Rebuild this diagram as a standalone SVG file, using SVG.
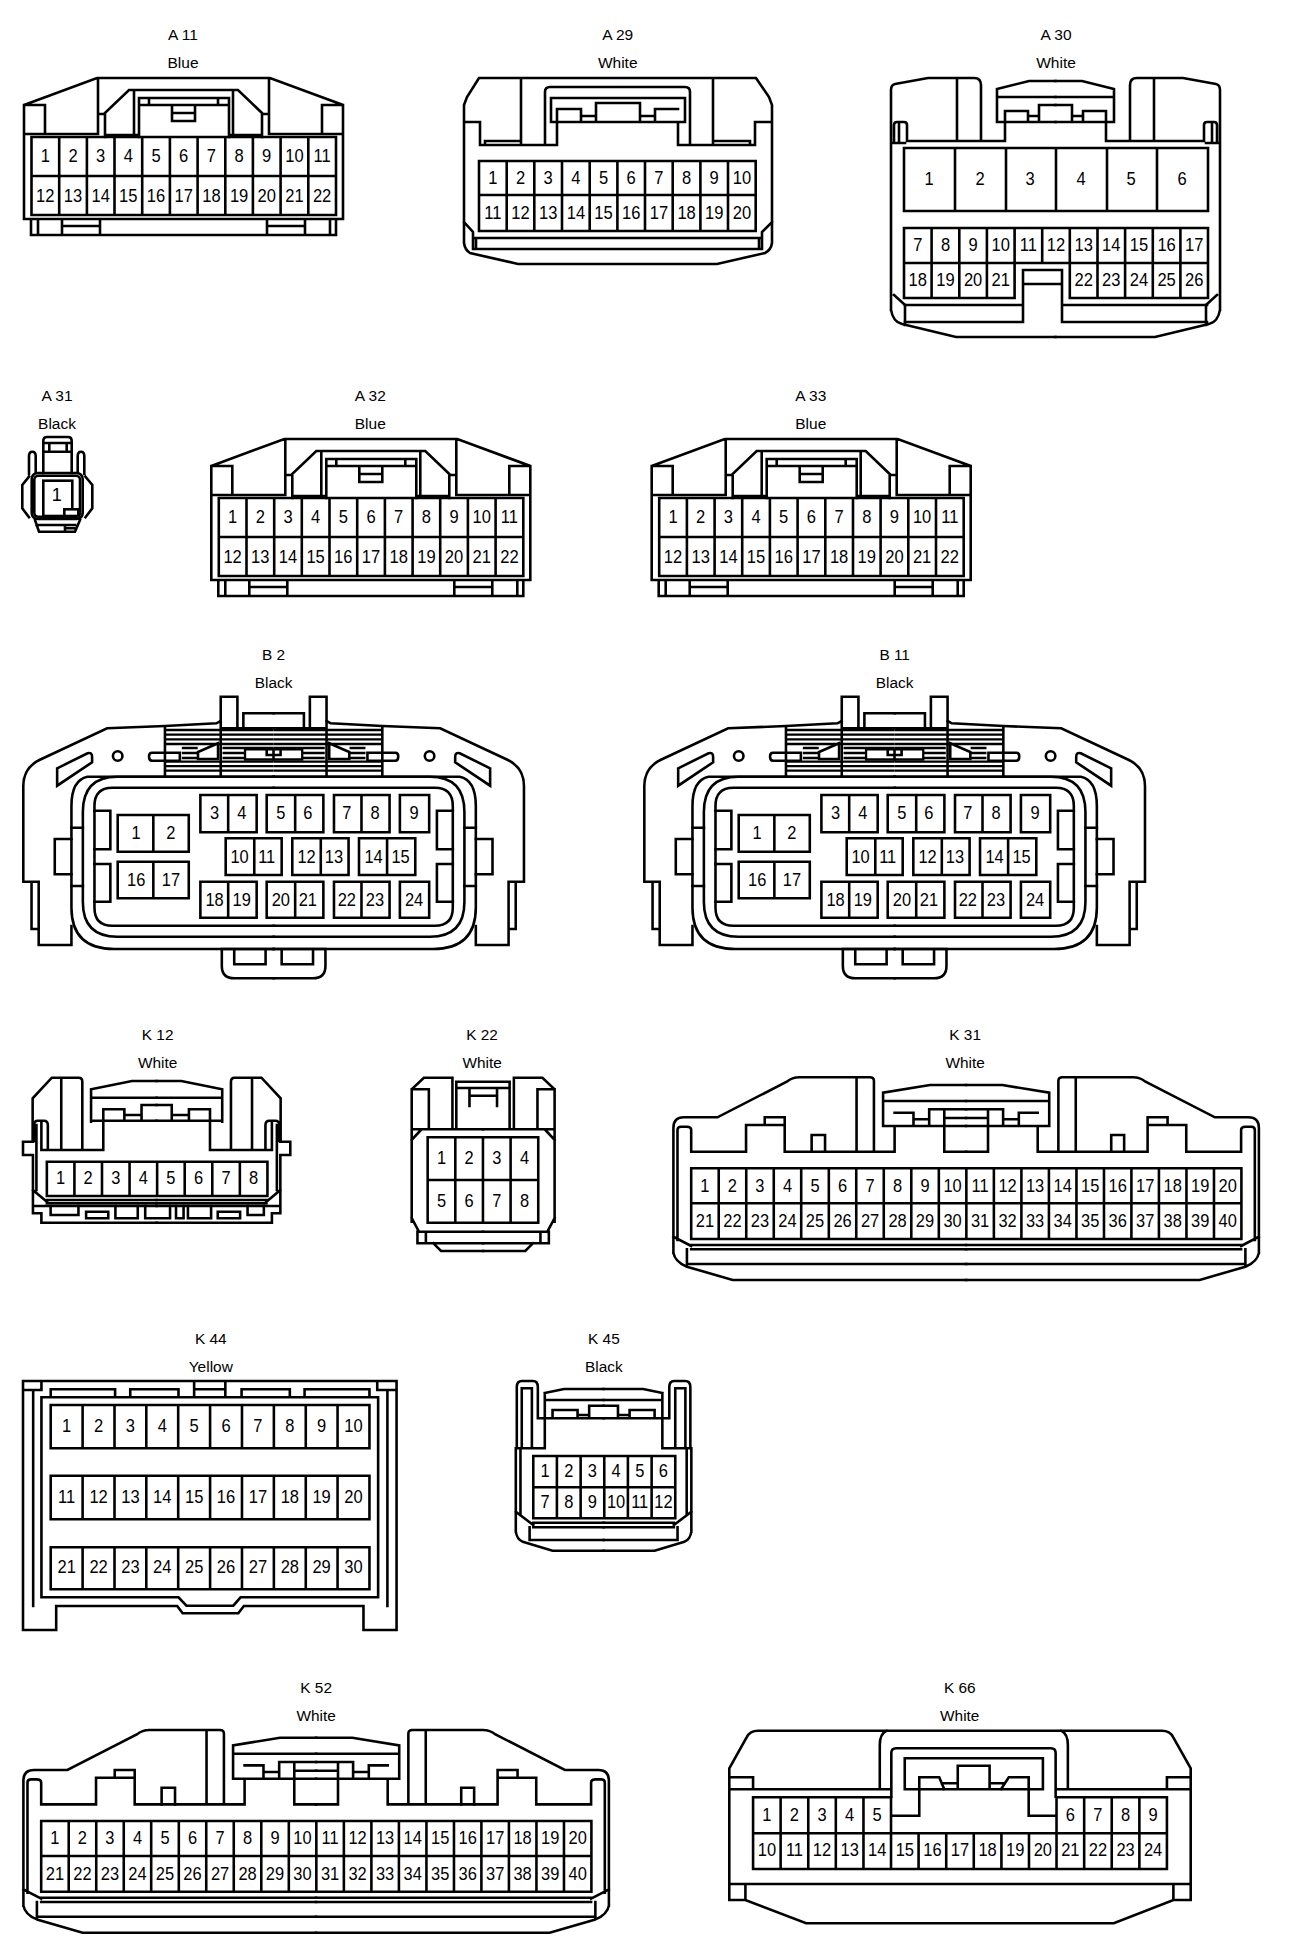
<svg xmlns="http://www.w3.org/2000/svg" xmlns:xlink="http://www.w3.org/1999/xlink" width="1312" height="1956" viewBox="0 0 1312 1956">
<style>
.s{fill:none;stroke:#000;stroke-width:2.6;stroke-linejoin:miter;stroke-linecap:square}
.h{fill:none;stroke:#000;stroke-width:2.3}
.w{fill:#fff;stroke:#000;stroke-width:2.6}
text{font-family:"Liberation Sans",Arial,sans-serif;fill:#000;text-anchor:middle}
.l{font-size:15.5px}
.n{font-size:18px}
.n text{transform-box:fill-box;transform-origin:center;transform:scaleX(.92)}
</style>
<defs>
<g id="s22">
<path class="s" d="M24 105L97 78H270L343 105V219H24Z M24 105H45V134 M322 134V105H343 M24 134H98V78 M343 134H269V78 M98 114H105V137 M269 114H262V137 M105 135H139 M229 135H262 M105 113L129 90H238L262 113 M134 90V135 M233 90V135 M139 137V98H229V137 M139 105H229 M149 98V105 M218 98V105 M172 105V121H195V105 M172 113H195 M31 219V235H336V219 M38 219V235 M62 219V235 M100 219V235 M62 226H100 M267 219V235 M305 219V235 M267 226H305 M330 219V235"/>
<path class="s" d="M31.5 137H336V215H31.5Z M31.5 176H336 M59.2 137V215 M86.9 137V215 M114.5 137V215 M142.2 137V215 M169.9 137V215 M197.6 137V215 M225.3 137V215 M252.9 137V215 M280.6 137V215 M308.3 137V215"/>
</g>
<g id="a30h">
<path class="s" d="M891 310V90Q891 85 895 84L928 78H974Q981 78 981 85V141 M957 78V141 M894 143V125Q894 122 897 122H904Q907 122 907 125V141 M899 122V141 M891 143H905 M907 141H1005V122 M997 122V89L1029 81H1055.5 M997 97H1055.5 M997 122H1055.5 M1005 122V111H1028V122 M1039 122V105H1055.5 M1028 116H1039 M894 295L905 305 M905 305V325 M891 310Q893 322 902 324L956 337H1055.5"/>
</g>
<g id="b2h">
<path class="s" d="M222 721L218 723.3L166 726L107.7 728.3L39.5 760Q23.3 768 23.3 786V881.7H38.8V945H71.8V926 M31.6 881.7V929H38.8"/>
<path class="s" d="M275.5 776.7H88Q71.8 780 71.8 806V908Q72 949 115 949H275.5"/>
<path class="s" d="M275.5 776.7H118Q83.3 776.7 83.3 812V902Q83.3 936.7 118 936.7H275.5"/>
<path class="s" d="M275.5 787.7H113Q95 787.7 95 806V907.7Q95 925.7 113 925.7H275.5"/>
<path class="s" d="M95 810.7H111V849.3H95 M95 864H111V901.7H95 M71.8 827.7H83.3 M71.8 886H83.3 M71.8 839H55V874.3H71.8"/>
<path class="s" d="M57.4 768.3L88 753.3Q92.6 752 92.6 757V762.3L57.4 785.7Z"/>
<circle class="s" cx="118.4" cy="756" r="4.8"/>
<path class="h" d="M166 730H275.5 M166 734.7H275.5 M166 739.3H275.5 M166 744H275.5 M166 761.7H275.5 M166 766.2H275.5 M166 770.7H275.5 M183 748H199 M183 753H199 M183 758H199 M224 748H275.5 M224 753H246.7 M224 758H246.7"/>
<path class="w" d="M199.3 752L219.5 743.3V759H199.3Z"/>
<path class="s" d="M166 727V776.7 M222.2 721V776.7 M222.2 728.3H275.5 M222.2 728V696.7H239V728 M245 728V713.3H275.5 M150 756Q150 752.7 153 752.7H181V760.7H153Q150 760.7 150 757Z"/>
<path d="M246.7 749.3H275.5V759.5H246.7Z" fill="#fff" stroke="#000" stroke-width="2.3"/>
<path class="s" d="M268.5 749V755H275.5 M275.5 949H223.3V966Q223.3 978.3 236 978.3H275.5 M235.8 949V964.3H267.4V949"/>
</g>
<g id="b2g">
<path class="s" d="M118.4 815H190V851.7H118.4Z M154.3 815V851.7 M118.4 861.7H190V898.3H118.4Z M154.3 861.7V898.3"/>
<path class="s" d="M201.7 795H258.4V832.3H201.7Z M229.7 795V832.3 M268.5 795H325.6V832.3H268.5Z M297.2 795V832.3 M336.3 795H392.3V832.3H336.3Z M364 795V832.3 M402.7 795H432.2V832.3H402.7Z"/>
<path class="s" d="M227.2 838.3H283.6V875H227.2Z M256 838.3V875 M294.3 838.3H351V875H294.3Z M323 838.3V875 M361.5 838.3H418.2V875H361.5Z M389.8 838.3V875"/>
<path class="s" d="M201.7 881.7H258.4V917.7H201.7Z M229.7 881.7V917.7 M268.5 881.7H325.6V917.7H268.5Z M297.2 881.7V917.7 M336.3 881.7H392.3V917.7H336.3Z M364 881.7V917.7 M402.7 881.7H432.2V917.7H402.7Z"/>
</g>
<g id="k40h">
<path class="s" d="M673.4 1253V1128Q673.4 1117.3 684 1117.3H717.7L787.5 1081.7Q793 1077.3 800 1077.3H871Q875.2 1077.3 875.2 1081V1151.7 M857.7 1077.3V1151.7 M800 1077.3H871 M677.5 1240V1130Q677.5 1126.7 681 1126.7H687Q691.3 1126.7 691.3 1130V1151.7 M691.3 1151.7H746.5V1125H785.4V1151.7H896V1126 M765.3 1125V1117.3H785.4V1125 M884.4 1126V1092.7L931.6 1085H968 M884.4 1101H968 M884.4 1126H968 M896 1112.7H915V1126 M930.8 1126V1109.3H968 M915 1119.3H930.8 M946 1109.3V1151.7H968 M946 1118H968 M673.4 1236.7L691.3 1246 M691.3 1245H968 M691.3 1249.3H968 M687 1249.3V1266 M687 1264H968 M673.4 1253Q675 1262 687 1266.7L733 1280H968"/>
</g>
<g id="k40g">
<path class="s" d="M691.3 1168.3H1245V1239H691.3Z M691.3 1203.3H1245 M719 1168.3V1239 M746.7 1168.3V1239 M774.4 1168.3V1239 M802 1168.3V1239 M829.8 1168.3V1239 M857.4 1168.3V1239 M885.1 1168.3V1239 M912.8 1168.3V1239 M940.5 1168.3V1239 M968.2 1168.3V1239 M995.9 1168.3V1239 M1023.6 1168.3V1239 M1051.3 1168.3V1239 M1079 1168.3V1239 M1106.7 1168.3V1239 M1134.3 1168.3V1239 M1162 1168.3V1239 M1189.7 1168.3V1239 M1217.4 1168.3V1239 M812.5 1151.7V1135H826V1151.7 M1114 1151.7V1135H1127V1151.7"/>
</g>
</defs>
<rect width="1312" height="1956" fill="#fff"/>

<g id="A11">
<text class="l" x="183" y="39.7">A 11</text><text class="l" x="183" y="68">Blue</text>
<use href="#s22"/>
<g class="n"><text x="45.3" y="162">1</text><text x="73" y="162">2</text><text x="100.7" y="162">3</text><text x="128.3" y="162">4</text><text x="156" y="162">5</text><text x="183.7" y="162">6</text><text x="211.4" y="162">7</text><text x="239.1" y="162">8</text><text x="266.7" y="162">9</text><text x="294.4" y="162">10</text><text x="322.1" y="162">11</text>
<text x="45.3" y="201.7">12</text><text x="73" y="201.7">13</text><text x="100.7" y="201.7">14</text><text x="128.3" y="201.7">15</text><text x="156" y="201.7">16</text><text x="183.7" y="201.7">17</text><text x="211.4" y="201.7">18</text><text x="239.1" y="201.7">19</text><text x="266.7" y="201.7">20</text><text x="294.4" y="201.7">21</text><text x="322.1" y="201.7">22</text></g>
</g>

<g id="A29">
<text class="l" x="617.7" y="39.7">A 29</text><text class="l" x="617.7" y="68">White</text>
<path class="s" d="M479 78H756L769 97L772 105V243Q771 250 765 253L717 264H518L470 253Q465 250 464 243V105L467 97Z M464 122H480V145H557V122 M772 122H755V145H678V122 M551 122V98H685V122 M551 122H685 M545 145V92Q545 87 550 87H685Q690 87 690 92V145 M521 78V145 M713 78V145 M485 145V141H521 M713 141H750V145 M557 122V109H581V122 M596 122V103H640V122 M655 122V109H678 M581 116H596 M640 116H655 M473 238H762 M473 249H762 M473 238V249 M476 238V249 M762 238V249 M759 238V249 M464 222L473 232V238 M772 222L762 232V238"/>
<path class="s" d="M479 161H755.7V231H479Z M479 195H755.7 M506.7 161V231 M534.3 161V231 M562 161V231 M589.7 161V231 M617.4 161V231 M645 161V231 M672.7 161V231 M700.4 161V231 M728 161V231"/>
<g class="n"><text x="492.8" y="184">1</text><text x="520.5" y="184">2</text><text x="548.2" y="184">3</text><text x="575.9" y="184">4</text><text x="603.5" y="184">5</text><text x="631.2" y="184">6</text><text x="658.9" y="184">7</text><text x="686.6" y="184">8</text><text x="714.2" y="184">9</text><text x="741.9" y="184">10</text>
<text x="492.8" y="219">11</text><text x="520.5" y="219">12</text><text x="548.2" y="219">13</text><text x="575.9" y="219">14</text><text x="603.5" y="219">15</text><text x="631.2" y="219">16</text><text x="658.9" y="219">17</text><text x="686.6" y="219">18</text><text x="714.2" y="219">19</text><text x="741.9" y="219">20</text></g>
</g>

<g id="A30">
<text class="l" x="1056" y="39.7">A 30</text><text class="l" x="1056" y="68">White</text>
<use href="#a30h"/><use href="#a30h" transform="translate(2111,0) scale(-1,1)"/>
<path class="s" d="M904 148H1208V211H904Z M955 148V211 M1006 148V211 M1056 148V211 M1107 148V211 M1157 148V211"/>
<path class="s" d="M904 228H1208V263H904Z M931.6 228V298 M959.3 228V298 M986.9 228V298 M1014.6 228V263 M1042.2 228V263 M1069.8 228V298 M1097.5 228V298 M1125.1 228V298 M1152.8 228V298 M1180.4 228V298 M904 263V298H1014.6V263 M1069.8 298H1208V263 M1023 322V270H1062V322 M1023 284H1062 M905 305H1023 M905 322H1023 M1062 305H1207 M1062 322H1207"/>
<g class="n"><text x="929" y="185">1</text><text x="980" y="185">2</text><text x="1030" y="185">3</text><text x="1081" y="185">4</text><text x="1131" y="185">5</text><text x="1182" y="185">6</text>
<text x="917.8" y="250.7">7</text><text x="945.5" y="250.7">8</text><text x="973.1" y="250.7">9</text><text x="1000.8" y="250.7">10</text><text x="1028.4" y="250.7">11</text><text x="1056" y="250.7">12</text><text x="1083.7" y="250.7">13</text><text x="1111.3" y="250.7">14</text><text x="1139" y="250.7">15</text><text x="1166.6" y="250.7">16</text><text x="1194.2" y="250.7">17</text>
<text x="917.8" y="286">18</text><text x="945.5" y="286">19</text><text x="973.1" y="286">20</text><text x="1000.8" y="286">21</text><text x="1083.7" y="286">22</text><text x="1111.3" y="286">23</text><text x="1139" y="286">24</text><text x="1166.6" y="286">25</text><text x="1194.2" y="286">26</text></g>
</g>

<g id="A31">
<text class="l" x="57" y="400.7">A 31</text><text class="l" x="57" y="429">Black</text>
<path class="s" d="M43.3 473V441Q43.3 437 47 437H68Q71.7 437 71.7 441V473 M43.3 443H71.7 M43.3 451.7H71.7 M49.3 443V451.7 M66.7 443V451.7 M29 474V456Q29 451.7 32.3 451.7Q35.7 451.7 35.7 456V473 M84.3 474V456Q84.3 451.7 81 451.7Q77.7 451.7 77.7 456V473 M29 476.7L22.3 485V508.3L29 517.3 M85.5 476.7L92.3 485V508.3L85.5 517.3"/>
<rect class="s" x="31.7" y="473" width="51" height="46" rx="6"/>
<rect class="s" x="34.3" y="475.7" width="45.7" height="41" rx="4"/>
<rect class="s" x="43.3" y="480.7" width="29" height="35.3"/>
<rect x="64.3" y="509.3" width="14" height="6.7" fill="#fff" stroke="#000" stroke-width="2.6"/>
<path class="s" d="M35 520L39 531.7H75L80 520 M36.5 525H75 M65 525V531.7 M65 528.3H74"/>
<text class="n" x="56.7" y="500.5">1</text>
</g>

<g id="A32" transform="translate(-1,0)">
<text class="l" x="371.3" y="400.7">A 32</text><text class="l" x="371.3" y="429">Blue</text>
<use href="#s22" transform="translate(188.3,361)"/>
<g class="n"><text x="233.6" y="523">1</text><text x="261.3" y="523">2</text><text x="289" y="523">3</text><text x="316.6" y="523">4</text><text x="344.3" y="523">5</text><text x="372" y="523">6</text><text x="399.7" y="523">7</text><text x="427.4" y="523">8</text><text x="455" y="523">9</text><text x="482.7" y="523">10</text><text x="510.4" y="523">11</text>
<text x="233.6" y="562.7">12</text><text x="261.3" y="562.7">13</text><text x="289" y="562.7">14</text><text x="316.6" y="562.7">15</text><text x="344.3" y="562.7">16</text><text x="372" y="562.7">17</text><text x="399.7" y="562.7">18</text><text x="427.4" y="562.7">19</text><text x="455" y="562.7">20</text><text x="482.7" y="562.7">21</text><text x="510.4" y="562.7">22</text></g>
</g>

<g id="A33" transform="translate(-.5,0)">
<text class="l" x="811.3" y="400.7">A 33</text><text class="l" x="811.3" y="429">Blue</text>
<use href="#s22" transform="translate(628.2,361)"/>
<g class="n"><text x="673.5" y="523">1</text><text x="701.2" y="523">2</text><text x="728.9" y="523">3</text><text x="756.5" y="523">4</text><text x="784.2" y="523">5</text><text x="811.9" y="523">6</text><text x="839.6" y="523">7</text><text x="867.3" y="523">8</text><text x="894.9" y="523">9</text><text x="922.6" y="523">10</text><text x="950.3" y="523">11</text>
<text x="673.5" y="562.7">12</text><text x="701.2" y="562.7">13</text><text x="728.9" y="562.7">14</text><text x="756.5" y="562.7">15</text><text x="784.2" y="562.7">16</text><text x="811.9" y="562.7">17</text><text x="839.6" y="562.7">18</text><text x="867.3" y="562.7">19</text><text x="894.9" y="562.7">20</text><text x="922.6" y="562.7">21</text><text x="950.3" y="562.7">22</text></g>
</g>

<g id="B2" transform="matrix(.9926 0 0 1 .17 0)">
<text class="l" x="275.5" y="659.7">B 2</text><text class="l" x="275.5" y="687.7">Black</text>
<use href="#b2h"/><use href="#b2h" transform="translate(551,0) scale(-1,1)"/><use href="#b2g"/>
<g class="n"><text x="137" y="839">1</text><text x="172" y="839">2</text><text x="216" y="819">3</text><text x="243.4" y="819">4</text><text x="282.8" y="819">5</text><text x="310" y="819">6</text><text x="349.2" y="819">7</text><text x="377.6" y="819">8</text><text x="417" y="819">9</text>
<text x="241.2" y="862.7">10</text><text x="268.5" y="862.7">11</text><text x="308.7" y="862.7">12</text><text x="336.3" y="862.7">13</text><text x="376.2" y="862.7">14</text><text x="403.4" y="862.7">15</text>
<text x="137" y="886">16</text><text x="172" y="886">17</text><text x="216" y="906">18</text><text x="243.4" y="906">19</text><text x="282.8" y="906">20</text><text x="310" y="906">21</text><text x="349.2" y="906">22</text><text x="377.6" y="906">23</text><text x="417" y="906">24</text></g>
</g>

<g id="B11" transform="matrix(.9926 0 0 1 3.8 0)">
<text class="l" x="897.5" y="659.7">B 11</text><text class="l" x="897.5" y="687.7">Black</text>
<g transform="translate(622,0)"><use href="#b2h"/><use href="#b2h" transform="translate(551,0) scale(-1,1)"/><use href="#b2g"/></g>
<g class="n"><text x="759" y="839">1</text><text x="794" y="839">2</text><text x="838" y="819">3</text><text x="865.4" y="819">4</text><text x="904.8" y="819">5</text><text x="932" y="819">6</text><text x="971.2" y="819">7</text><text x="999.6" y="819">8</text><text x="1039" y="819">9</text>
<text x="863.2" y="862.7">10</text><text x="890.5" y="862.7">11</text><text x="930.7" y="862.7">12</text><text x="958.3" y="862.7">13</text><text x="998.2" y="862.7">14</text><text x="1025.4" y="862.7">15</text>
<text x="759" y="886">16</text><text x="794" y="886">17</text><text x="838" y="906">18</text><text x="865.4" y="906">19</text><text x="904.8" y="906">20</text><text x="932" y="906">21</text><text x="971.2" y="906">22</text><text x="999.6" y="906">23</text><text x="1039" y="906">24</text></g>
</g>

<g id="K12" transform="matrix(.9936 0 0 1 .15 0)">
<text class="l" x="158.5" y="1039.7">K 12</text><text class="l" x="158.5" y="1067.7">White</text>
<g id="k12h"><path class="s" d="M32.7 1141.7V1098.3L52 1077.7H79Q82.7 1077.7 82.7 1081.7V1150 M61.5 1077.7V1150 M44 1150H103.8 M91.5 1121.7V1089.3L132.7 1081H157.5 M91.5 1097.7H157.5 M91.5 1120.7H157.5 M103.8 1150V1109.3H125V1120.7 M142.3 1120.7V1105H157.5 M125 1115H142.3 M34 1141V1125Q34 1120.7 38 1120.7H44Q48 1120.7 48 1125V1150 M41.5 1122V1150 M36.5 1125V1190 M33 1141.7H23V1155H33 M33 1155V1213.3H41.5V1222.7H157.5 M33 1190L47 1201.7 M33 1206H157.5 M47 1200H157.5 M47 1203.3H157.5"/></g>
<use href="#k12h" transform="translate(315,0) scale(-1,1)"/>
<path class="s" d="M47 1161.7H269V1196H47Z M74.75 1161.7V1196 M102.5 1161.7V1196 M130.25 1161.7V1196 M158 1161.7V1196 M185.75 1161.7V1196 M213.5 1161.7V1196 M241.25 1161.7V1196 M50.8 1206V1215H78.8V1206 M86.5 1211.7H108.8V1218.3H86.5Z M116 1206V1218.3H138.5V1206 M146 1206V1218.3H171V1206 M177 1206V1218.3H184.6V1206 M189 1206V1218.3H212.3V1206 M219 1211.7H241.5V1218.3H219Z M249 1206V1215H265.4V1206"/>
<g class="n"><text x="60.9" y="1184.3">1</text><text x="88.6" y="1184.3">2</text><text x="116.4" y="1184.3">3</text><text x="144.1" y="1184.3">4</text><text x="171.9" y="1184.3">5</text><text x="199.6" y="1184.3">6</text><text x="227.4" y="1184.3">7</text><text x="255.1" y="1184.3">8</text></g>
</g>

<g id="K22" transform="matrix(.991 0 0 1 2.72 0)">
<text class="l" x="483.7" y="1039.7">K 22</text><text class="l" x="483.7" y="1067.7">White</text>
<g id="k22h"><path class="s" d="M412.7 1221.7V1089.3L425 1077.7H453.8V1128.3 M412.7 1089.3H430V1128.3 M412.7 1129.3H484.8 M412.7 1140L422 1130 M412.7 1218L420 1231.7 M420 1231.7H484.8 M418.5 1231.7V1243.3H484.8 M427 1231.7V1243.3 M434.6 1243.3L442.3 1251H484.8"/></g>
<use href="#k22h" transform="translate(969.6,0) scale(-1,1)"/>
<path class="s" d="M457.7 1128.3V1081.7H511.5V1128.3 M457.7 1088H511.5 M471 1088V1106 M498.8 1088V1106 M471 1095.7H498.8"/>
<path class="s" d="M428.8 1137.3H540.4V1222.7H428.8Z M428.8 1180H540.4 M456.7 1137.3V1222.7 M484.6 1137.3V1222.7 M512.5 1137.3V1222.7"/>
<g class="n"><text x="442.8" y="1164.3">1</text><text x="470.7" y="1164.3">2</text><text x="498.6" y="1164.3">3</text><text x="526.5" y="1164.3">4</text><text x="442.8" y="1207.3">5</text><text x="470.7" y="1207.3">6</text><text x="498.6" y="1207.3">7</text><text x="526.5" y="1207.3">8</text></g>
</g>

<g id="K31" transform="matrix(.9937 0 0 1 4.25 0)">
<text class="l" x="967" y="1039.7">K 31</text><text class="l" x="967" y="1067.7">White</text>
<use href="#k40h"/><use href="#k40h" transform="translate(1936,0) scale(-1,1)"/><use href="#k40g"/>
<g class="n"><text x="705.1" y="1191.7">1</text><text x="732.8" y="1191.7">2</text><text x="760.5" y="1191.7">3</text><text x="788.2" y="1191.7">4</text><text x="815.9" y="1191.7">5</text><text x="843.6" y="1191.7">6</text><text x="871.3" y="1191.7">7</text><text x="899" y="1191.7">8</text><text x="926.6" y="1191.7">9</text><text x="954.3" y="1191.7">10</text><text x="982" y="1191.7">11</text><text x="1009.7" y="1191.7">12</text><text x="1037.4" y="1191.7">13</text><text x="1065.1" y="1191.7">14</text><text x="1092.8" y="1191.7">15</text><text x="1120.5" y="1191.7">16</text><text x="1148.2" y="1191.7">17</text><text x="1175.8" y="1191.7">18</text><text x="1203.5" y="1191.7">19</text><text x="1231.2" y="1191.7">20</text>
<text x="705.1" y="1227.3">21</text><text x="732.8" y="1227.3">22</text><text x="760.5" y="1227.3">23</text><text x="788.2" y="1227.3">24</text><text x="815.9" y="1227.3">25</text><text x="843.6" y="1227.3">26</text><text x="871.3" y="1227.3">27</text><text x="899" y="1227.3">28</text><text x="926.6" y="1227.3">29</text><text x="954.3" y="1227.3">30</text><text x="982" y="1227.3">31</text><text x="1009.7" y="1227.3">32</text><text x="1037.4" y="1227.3">33</text><text x="1065.1" y="1227.3">34</text><text x="1092.8" y="1227.3">35</text><text x="1120.5" y="1227.3">36</text><text x="1148.2" y="1227.3">37</text><text x="1175.8" y="1227.3">38</text><text x="1203.5" y="1227.3">39</text><text x="1231.2" y="1227.3">40</text></g>
</g>

<g id="K44" transform="matrix(.9967 0 0 1 .08 0)">
<text class="l" x="211.4" y="1343.7">K 44</text><text class="l" x="211.4" y="1371.7">Yellow</text>
<path class="s" d="M23 1381H397.8V1630H364.6V1606H244.6L239 1613.3H183.2L177.7 1606H56.3V1630H23Z M33.2 1390V1606 M388.6 1390V1606 M23 1390H41.5V1381 M397.8 1390H378.4V1381 M41.5 1397.3H379.3V1597.3H241.3L234 1605.7H187L179 1597.3H41.5Z M50.8 1397.3V1389.3H115.4V1397.3 M130.6 1397.3V1389.3H179V1397.3 M194.7 1381V1397.3 M226 1381V1397.3 M194.7 1389.3H226 M242.3 1397.3V1389.3H290.7V1397.3 M305.5 1397.3V1389.3H370.6V1397.3"/>
<path class="s" d="M50.8 1405H370.6V1448.3H50.8Z M82.8 1405V1448.3 M114.8 1405V1448.3 M146.7 1405V1448.3 M178.7 1405V1448.3 M210.7 1405V1448.3 M242.7 1405V1448.3 M274.7 1405V1448.3 M306.7 1405V1448.3 M338.6 1405V1448.3"/>
<path class="s" d="M50.8 1475.7H370.6V1519.3H50.8Z M82.8 1475.7V1519.3 M114.8 1475.7V1519.3 M146.7 1475.7V1519.3 M178.7 1475.7V1519.3 M210.7 1475.7V1519.3 M242.7 1475.7V1519.3 M274.7 1475.7V1519.3 M306.7 1475.7V1519.3 M338.6 1475.7V1519.3"/>
<path class="s" d="M50.8 1547.3H370.6V1589.3H50.8Z M82.8 1547.3V1589.3 M114.8 1547.3V1589.3 M146.7 1547.3V1589.3 M178.7 1547.3V1589.3 M210.7 1547.3V1589.3 M242.7 1547.3V1589.3 M274.7 1547.3V1589.3 M306.7 1547.3V1589.3 M338.6 1547.3V1589.3"/>
<g class="n"><text x="66.8" y="1432.3">1</text><text x="98.8" y="1432.3">2</text><text x="130.8" y="1432.3">3</text><text x="162.7" y="1432.3">4</text><text x="194.7" y="1432.3">5</text><text x="226.7" y="1432.3">6</text><text x="258.7" y="1432.3">7</text><text x="290.7" y="1432.3">8</text><text x="322.6" y="1432.3">9</text><text x="354.6" y="1432.3">10</text>
<text x="66.8" y="1502.7">11</text><text x="98.8" y="1502.7">12</text><text x="130.8" y="1502.7">13</text><text x="162.7" y="1502.7">14</text><text x="194.7" y="1502.7">15</text><text x="226.7" y="1502.7">16</text><text x="258.7" y="1502.7">17</text><text x="290.7" y="1502.7">18</text><text x="322.6" y="1502.7">19</text><text x="354.6" y="1502.7">20</text>
<text x="66.8" y="1573.3">21</text><text x="98.8" y="1573.3">22</text><text x="130.8" y="1573.3">23</text><text x="162.7" y="1573.3">24</text><text x="194.7" y="1573.3">25</text><text x="226.7" y="1573.3">26</text><text x="258.7" y="1573.3">27</text><text x="290.7" y="1573.3">28</text><text x="322.6" y="1573.3">29</text><text x="354.6" y="1573.3">30</text></g>
</g>

<g id="K45" transform="matrix(.9929 0 0 1 2.67 0)">
<text class="l" x="605.5" y="1343.7">K 45</text><text class="l" x="605.5" y="1371.7">Black</text>
<g id="k45h"><path class="s" d="M516.8 1531.7V1448.3 M517.8 1448.3V1387Q517.8 1381 523 1381H534Q539 1381 539 1387V1418.3 M522.8 1448.3V1388.3H533V1448.3 M516.8 1448.3H546V1393 M546 1393L565.3 1389H605.2 M546 1400H605.2 M539 1418.3H605.2 M553.8 1418.3V1410H579V1418.3 M590.7 1418.3V1405.7H605.2 M579 1415H590.7 M521.5 1448.3V1515 M516.8 1511.7L534.4 1525 M534.4 1522.7H605.2 M534.4 1527.3H605.2 M530.7 1527.3V1540H605.2 M516.8 1531.7Q518 1540 523.8 1541.7L553.8 1550.7H605.2"/></g>
<use href="#k45h" transform="translate(1210.4,0) scale(-1,1)"/>
<path class="s" d="M534.4 1456H677.4V1518.3H534.4Z M534.4 1487.3H677.4 M558.2 1456V1518.3 M582.1 1456V1518.3 M605.9 1456V1518.3 M629.7 1456V1518.3 M653.6 1456V1518.3"/>
<g class="n"><text x="546.3" y="1477.3">1</text><text x="570.1" y="1477.3">2</text><text x="594" y="1477.3">3</text><text x="617.8" y="1477.3">4</text><text x="641.6" y="1477.3">5</text><text x="665.5" y="1477.3">6</text><text x="546.3" y="1508.3">7</text><text x="570.1" y="1508.3">8</text><text x="594" y="1508.3">9</text><text x="617.8" y="1508.3">10</text><text x="641.6" y="1508.3">11</text><text x="665.5" y="1508.3">12</text></g>
</g>

<g id="K52" transform="matrix(.9937 0 0 1 .145 0)">
<text class="l" x="318" y="1692.7">K 52</text><text class="l" x="318" y="1720.7">White</text>
<g transform="translate(-650,652.7)"><use href="#k40h"/><use href="#k40h" transform="translate(1936,0) scale(-1,1)"/><use href="#k40g"/></g>
<g class="n"><text x="55.1" y="1844">1</text><text x="82.8" y="1844">2</text><text x="110.5" y="1844">3</text><text x="138.2" y="1844">4</text><text x="165.9" y="1844">5</text><text x="193.6" y="1844">6</text><text x="221.3" y="1844">7</text><text x="249" y="1844">8</text><text x="276.6" y="1844">9</text><text x="304.3" y="1844">10</text><text x="332" y="1844">11</text><text x="359.7" y="1844">12</text><text x="387.4" y="1844">13</text><text x="415.1" y="1844">14</text><text x="442.8" y="1844">15</text><text x="470.5" y="1844">16</text><text x="498.2" y="1844">17</text><text x="525.8" y="1844">18</text><text x="553.5" y="1844">19</text><text x="581.2" y="1844">20</text>
<text x="55.1" y="1879.7">21</text><text x="82.8" y="1879.7">22</text><text x="110.5" y="1879.7">23</text><text x="138.2" y="1879.7">24</text><text x="165.9" y="1879.7">25</text><text x="193.6" y="1879.7">26</text><text x="221.3" y="1879.7">27</text><text x="249" y="1879.7">28</text><text x="276.6" y="1879.7">29</text><text x="304.3" y="1879.7">30</text><text x="332" y="1879.7">31</text><text x="359.7" y="1879.7">32</text><text x="387.4" y="1879.7">33</text><text x="415.1" y="1879.7">34</text><text x="442.8" y="1879.7">35</text><text x="470.5" y="1879.7">36</text><text x="498.2" y="1879.7">37</text><text x="525.8" y="1879.7">38</text><text x="553.5" y="1879.7">39</text><text x="581.2" y="1879.7">40</text></g>
</g>

<g id="K66" transform="matrix(.9946 0 0 1 3.94 0)">
<text class="l" x="961" y="1693">K 66</text><text class="l" x="961" y="1720.7">White</text>
<path class="s" d="M729.3 1768.3L746.7 1737.3Q750 1730.7 758.2 1730.7H1164.2Q1172.4 1730.7 1175.7 1737.3L1193.2 1768.3V1900H1175.8L1115.9 1923.3H806.5L745.5 1900H729.3Z M729.3 1789.3H892.2 M1057.4 1789.3H1193.2 M729.3 1777.3H753.2V1789.3 M1193.2 1777.3H1169.3V1789.3 M880.6 1789.3V1745Q880.6 1734 887.5 1730.7 M1069.7 1789.3V1745Q1069.7 1734 1063 1730.7 M892.2 1796.7V1753Q892.2 1748.3 897 1748.3H1052.7Q1057.4 1748.3 1057.4 1753V1796.7 M905.7 1758.3H1044.6V1789.3H905.7Z M959 1789.3V1765.7H991V1789.3 M893.3 1815.7H920.3V1777.3H940.4L945.4 1789.3 M943 1783.3H959 M991 1783.3H1006 M1002.5 1789.3L1010.3 1777.3H1030.3V1815.7H1057.4 M729.3 1884H1193.2 M745.5 1884V1900 M1175.8 1884V1900"/>
<path class="s" d="M753.2 1833.3H1169.3V1869H753.2Z M753.2 1797.3H891.9V1833.3 M753.2 1797.3V1833.3 M1058.3 1833.3V1797.3H1169.3V1833.3 M780.9 1797.3V1869 M808.7 1797.3V1869 M836.4 1797.3V1869 M864.2 1797.3V1869 M891.9 1797.3V1869 M919.6 1833.3V1869 M947.4 1833.3V1869 M975.1 1833.3V1869 M1002.9 1833.3V1869 M1030.6 1833.3V1869 M1058.3 1797.3V1869 M1086.1 1797.3V1869 M1113.8 1797.3V1869 M1141.6 1797.3V1869"/>
<g class="n"><text x="767.1" y="1820.7">1</text><text x="794.8" y="1820.7">2</text><text x="822.5" y="1820.7">3</text><text x="850.3" y="1820.7">4</text><text x="878" y="1820.7">5</text><text x="1072.2" y="1820.7">6</text><text x="1099.9" y="1820.7">7</text><text x="1127.7" y="1820.7">8</text><text x="1155.4" y="1820.7">9</text>
<text x="767.1" y="1856">10</text><text x="794.8" y="1856">11</text><text x="822.5" y="1856">12</text><text x="850.3" y="1856">13</text><text x="878" y="1856">14</text><text x="905.8" y="1856">15</text><text x="933.5" y="1856">16</text><text x="961.2" y="1856">17</text><text x="989" y="1856">18</text><text x="1016.7" y="1856">19</text><text x="1044.5" y="1856">20</text><text x="1072.2" y="1856">21</text><text x="1099.9" y="1856">22</text><text x="1127.7" y="1856">23</text><text x="1155.4" y="1856">24</text></g>
</g>
</svg>
